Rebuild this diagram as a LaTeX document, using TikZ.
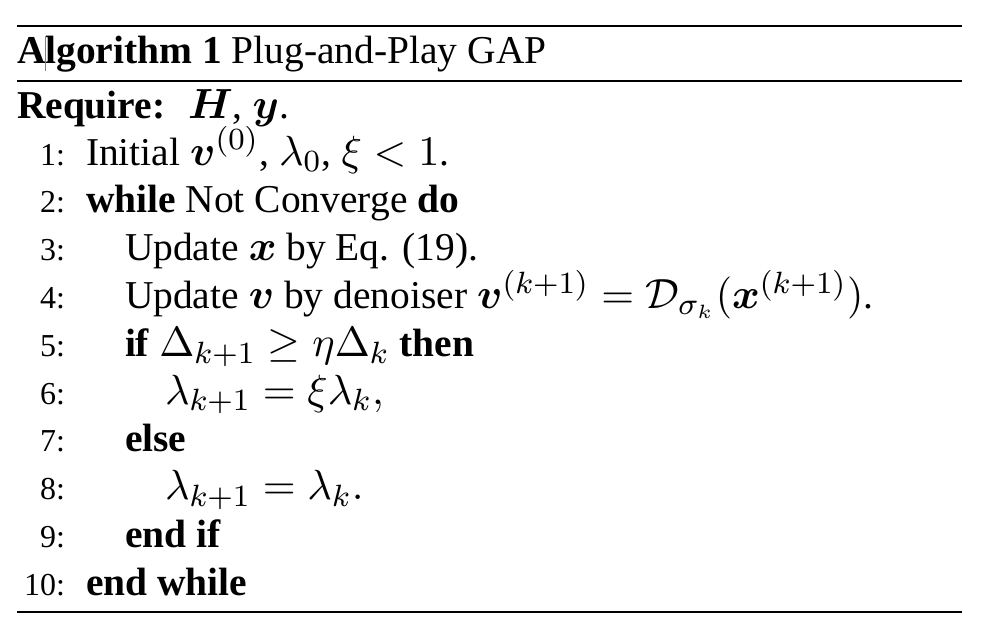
\documentclass[tikz,border=0pt]{standalone}
\usepackage{amsmath,bm}
\usepackage{fontspec}
\setmainfont{Liberation Serif}
\newcommand{\mth}[1]{{\fontsize{11pt}{13pt}\selectfont$#1$}}
\begin{document}
\begin{tikzpicture}[x=0.2597pt,y=-0.2597pt,
  txt/.style={anchor=base west,inner sep=0pt,outer sep=0pt,font=\fontsize{10.25pt}{12.5pt}\selectfont},
  num/.style={anchor=base east,inner sep=0pt,outer sep=0pt,font=\fontsize{8.3pt}{10pt}\selectfont},
  toprule/.style={line width=0.6pt},
  midrule/.style={line width=0.4pt}]
\useasboundingbox (0,0) rectangle (986,642);
% rules
\draw[toprule] (17,26) -- (962,26);
\draw[midrule] (17,81) -- (962,81);
\draw[midrule] (17,612) -- (962,612);
% caption
\node[txt] (cap) at (17,63) {\textbf{Algorithm 1} Plug-and-Play GAP};
\draw[gray,line width=0.25pt] (45,36) -- (45,71);
% require
\node[txt] (req) at (17,118) {\textbf{Require:}};
\node[txt] (reqv) at (188,118) {\mth{\bm{H}}, \mth{\bm{y}}.};
% line numbers
\foreach \i in {1,...,10}{
  \node[num] (n\i) at (65,{165+(\i-1)*47.8}) {\i:};
}
% lines
\node[txt] (l1) at (86,165) {Initial \mth{\bm{v}^{(0)}}, \mth{\lambda_0}, \mth{\xi < 1}.};
\node[txt] (l2) at (86,212.8) {\textbf{while} Not Converge \textbf{do}};
\node[txt] (l3) at (125,260.6) {Update \mth{\bm{x}} by Eq. (19).};
\node[txt] (l4) at (125,308.4) {Update \mth{\bm{v}} by denoiser \mth{\bm{v}^{(k+1)} = \mathcal{D}_{\sigma_k}(\bm{x}^{(k+1)})}.};
\node[txt] (l5) at (125,356.2) {\textbf{if} \mth{\Delta_{k+1} \geq \eta\Delta_k} \textbf{then}};
\node[txt] (l6) at (165,404) {\mth{\lambda_{k+1} = \xi\lambda_k,}};
\node[txt] (l7) at (125,451.8) {\textbf{else}};
\node[txt] (l8) at (165,499.6) {\mth{\lambda_{k+1} = \lambda_k.}};
\node[txt] (l9) at (125,547.4) {\textbf{end if}};
\node[txt] (l10) at (86,595.2) {\textbf{end while}};
\end{tikzpicture}
\end{document}
